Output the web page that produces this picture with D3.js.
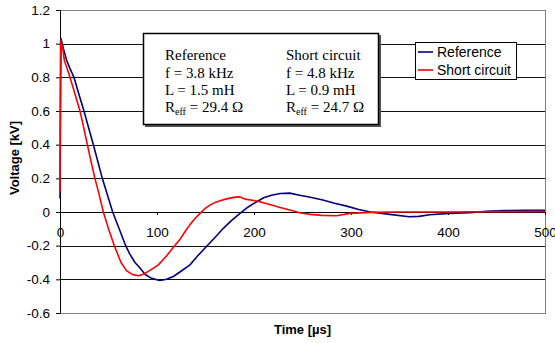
<!DOCTYPE html>
<html lang="en">
<head>
<meta charset="UTF-8">
<script src="https://d3js.org/d3.v7.min.js"></script>
<style>
  body { margin: 0; background: #fff; }
  svg { display: block; font-family: "Liberation Sans", Arial, sans-serif; }
  .y-axis text, .x-axis text { font-size: 13.5px; fill: #000; }
  .box-text { font-family: "Liberation Serif", "Times New Roman", serif; font-size: 15px; }
</style>
</head>
<body>
<svg id="graph"></svg>
<script>
// values: time in us, voltage in kV
const timeRef = [0, 0.5, 1, 3.5, 6.9, 10.5, 14.4, 19.5, 24.7, 29.5, 34.4, 39, 43.6, 49, 54.3, 61, 67.7, 72, 77.3, 82.5, 87.6, 93, 99.7, 103, 110, 116.8, 124, 134, 142, 151, 160, 168.4, 177, 185.6, 194, 202.8, 210, 218, 227, 237, 247, 258, 271, 283, 295.5, 308, 320, 340, 360, 370, 381, 402, 423, 440, 457, 480, 500];
const voltRef = [0.08, 0.6, 1.03, 0.97, 0.9, 0.85, 0.8, 0.7, 0.6, 0.5, 0.4, 0.3, 0.2, 0.1, 0, -0.1, -0.2, -0.25, -0.3, -0.333, -0.37, -0.39, -0.402, -0.406, -0.4, -0.383, -0.355, -0.314, -0.26, -0.205, -0.15, -0.097, -0.05, -0.008, 0.03, 0.061, 0.085, 0.1, 0.11, 0.112, 0.1, 0.088, 0.071, 0.052, 0.035, 0.015, 0, -0.014, -0.028, -0.026, -0.016, -0.008, -0.004, 0.004, 0.008, 0.01, 0.01];

const timeShort = [0, 0.3, 0.6, 1.5, 2.5, 4.5, 7.5, 10.3, 15.5, 20.6, 24.5, 28.2, 32, 36, 40.5, 44.7, 50, 56, 62.9, 68.7, 75, 80.8, 86, 91, 96, 101.4, 110, 117.5, 124, 129, 134, 139, 144.3, 149, 154.6, 160, 165, 172, 178.7, 185.6, 189, 192.5, 200, 206, 216.5, 226, 237, 247, 258, 270, 285, 299, 320, 350, 400, 450, 500];
const voltShort = [0.12, 0.7, 1.02, 0.97, 0.99, 0.9, 0.85, 0.8, 0.7, 0.6, 0.5, 0.4, 0.3, 0.2, 0.1, 0, -0.1, -0.2, -0.3, -0.35, -0.372, -0.379, -0.37, -0.353, -0.335, -0.314, -0.26, -0.205, -0.16, -0.116, -0.075, -0.04, -0.008, 0.018, 0.041, 0.057, 0.067, 0.078, 0.087, 0.09, 0.08, 0.075, 0.068, 0.061, 0.045, 0.028, 0.012, -0.004, -0.014, -0.02, -0.022, -0.008, -0.002, 0, 0, 0.002, 0.003];

const xTicks = [0, 100, 200, 300, 400, 500];
const yTicks = [-0.6, -0.4, -0.2, 0, 0.2, 0.4, 0.6, 0.8, 1, 1.2];
const yLabels = ["-0.6", "-0.4", "-0.2", "0", "0.2", "0.4", "0.6", "0.8", "1", "1.2"];

const seriesNames = ["Reference", "Short circuit"];
const seriesColors = ["#000080", "#ff0000"];

const boxLeft = ["Reference", "f = 3.8 kHz", "L = 1.5 mH", "29.4 Ω"];
const boxRight = ["Short circuit", "f = 4.8 kHz", "L = 0.9 mH", "24.7 Ω"];

const svgWidth = 555;
const svgHeight = 343;
const margin = { top: 10, right: 10, bottom: 30, left: 60 };
const width = svgWidth - margin.left - margin.right;   // 485
const height = 313 - margin.top;                        // 303

const svg = d3.select("#graph")
  .attr("width", svgWidth)
  .attr("height", svgHeight);

const chart = svg.append("g")
  .attr("transform", `translate(${margin.left},${margin.top})`);

const xScale = d3.scaleLinear().domain([0, 500]).range([0, width]);
const yScale = d3.scaleLinear().domain([-0.6, 1.2]).range([height, 0]);

// plot area border
chart.append("rect")
  .attr("x", 0.5).attr("y", 0.5)
  .attr("width", width).attr("height", height)
  .attr("fill", "none")
  .attr("stroke", "#808080");

// horizontal gridlines
chart.selectAll(".grid")
  .data(yTicks.filter(v => v > -0.6 && v < 1.2))
  .enter().append("line")
  .attr("class", "grid")
  .attr("x1", 0).attr("x2", width)
  .attr("y1", d => Math.round(yScale(d)) + 0.5)
  .attr("y2", d => Math.round(yScale(d)) + 0.5)
  .attr("stroke", "#111");

// y axis
const yAxis = d3.axisLeft(yScale)
  .tickValues(yTicks)
  .tickFormat((d, i) => yLabels[i])
  .tickSize(4)
  .tickSizeOuter(0)
  .tickPadding(6);
chart.append("g")
  .attr("class", "y-axis")
  .call(yAxis)
  .call(g => g.selectAll("text").style("font-family", "'Liberation Sans', Arial, sans-serif"));

// x axis sits on the zero line
const xAxis = d3.axisBottom(xScale)
  .tickValues(xTicks)
  .tickSize(3)
  .tickSizeOuter(0)
  .tickPadding(12);
chart.append("g")
  .attr("class", "x-axis")
  .attr("transform", `translate(0,${Math.round(yScale(0))})`)
  .call(xAxis)
  .call(g => g.selectAll("text").style("font-family", "'Liberation Sans', Arial, sans-serif"));

// curves
const line = d3.line()
  .x(d => xScale(d[0]))
  .y(d => yScale(d[1]));

const series = [
  d3.zip(timeRef, voltRef),
  d3.zip(timeShort, voltShort)
];

series.forEach((pts, i) => {
  chart.append("path")
    .datum(pts)
    .attr("fill", "none")
    .attr("stroke", seriesColors[i])
    .attr("stroke-width", 1.6)
    .attr("stroke-linejoin", "round")
    .attr("d", line);
});

// axis titles
svg.append("text")
  .attr("transform", "translate(19,158) rotate(-90)")
  .attr("text-anchor", "middle")
  .attr("font-weight", "bold")
  .attr("font-size", "13px")
  .text("Voltage [kV]");

svg.append("text")
  .attr("x", margin.left + width / 2)
  .attr("y", 334)
  .attr("text-anchor", "middle")
  .attr("font-weight", "bold")
  .attr("font-size", "13px")
  .text("Time [µs]");

// parameter box
svg.append("rect")
  .attr("x", 145).attr("y", 35)
  .attr("width", 236).attr("height", 92)
  .attr("fill", "#555");
svg.append("rect")
  .attr("x", 143.5).attr("y", 33.5)
  .attr("width", 235).attr("height", 91)
  .attr("fill", "#fff")
  .attr("stroke", "#000")
  .attr("stroke-width", 1.5);

function boxColumn(lines, xPos) {
  const baselines = [60, 78, 95, 112];
  lines.forEach((s, i) => {
    const t = svg.append("text")
      .attr("class", "box-text")
      .attr("x", xPos)
      .attr("y", baselines[i]);
    if (i < 3) {
      t.text(s);
    } else {
      t.append("tspan").text("R");
      t.append("tspan").attr("font-size", "10px").attr("dy", 3).text("eff");
      t.append("tspan").attr("dy", -3).text(" = " + s);
    }
  });
}
boxColumn(boxLeft, 165);
boxColumn(boxRight, 286);

// legend
const legend = svg.append("g").attr("transform", "translate(415,42)");
legend.append("rect")
  .attr("x", 0.5).attr("y", 0.5)
  .attr("width", 101).attr("height", 37)
  .attr("fill", "#fff")
  .attr("stroke", "#000");

seriesNames.forEach((name, i) => {
  const yy = 10 + i * 18;
  legend.append("line")
    .attr("x1", 3).attr("x2", 18)
    .attr("y1", yy).attr("y2", yy)
    .attr("stroke", seriesColors[i])
    .attr("stroke-width", 1.6);
  legend.append("text")
    .attr("x", 22)
    .attr("y", yy + 5)
    .attr("font-size", "14px")
    .text(name);
});
</script>
</body>
</html>
